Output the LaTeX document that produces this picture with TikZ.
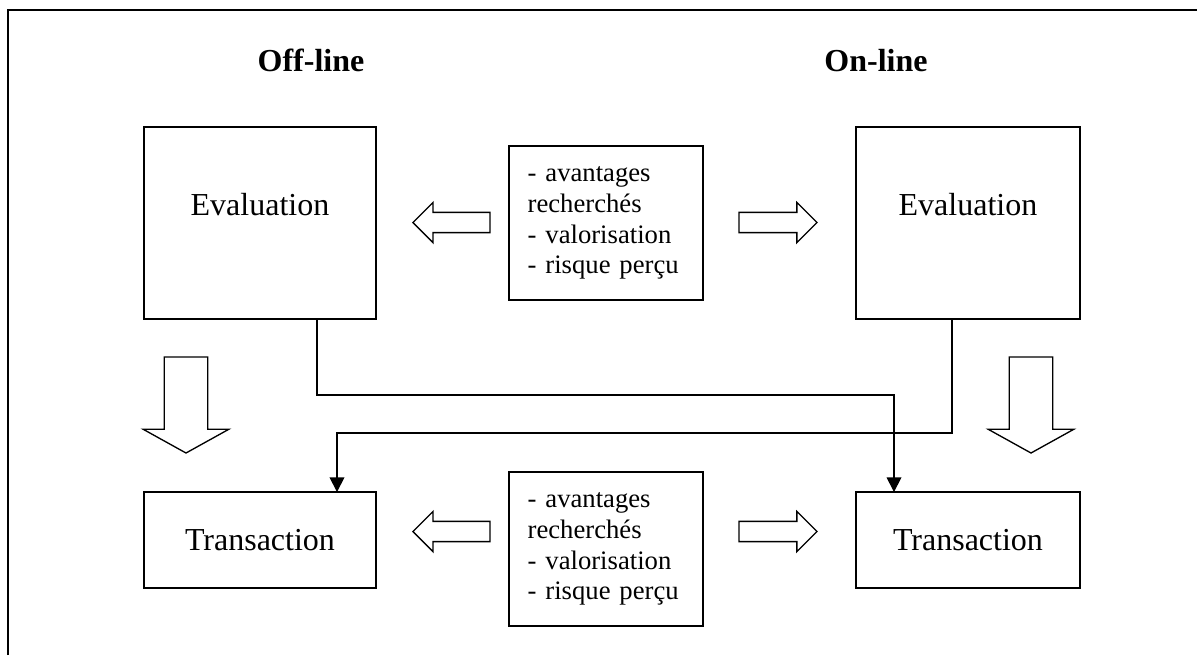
\documentclass[tikz,border=0pt]{standalone}
\usepackage{fontspec}
\setmainfont{Liberation Serif}
\usepackage{tikz}
\usetikzlibrary{shapes.arrows, arrows.meta, calc, positioning}
\tikzstyle{stage} = [rectangle, line width=0.75pt, draw=black, minimum width=87pt, inner sep=0pt, outer sep=0pt, font=\fontsize{12pt}{14pt}\selectfont]
\tikzstyle{criteria} = [rectangle, line width=0.75pt, draw=black, minimum width=72.75pt, minimum height=57.75pt, text width=58.75pt, inner xsep=7pt, inner ysep=0pt, align=left, font=\fontsize{10pt}{11.5pt}\selectfont]
\tikzstyle{heading} = [anchor=base, font=\fontsize{12pt}{14pt}\selectfont\bfseries]
\tikzstyle{blockarrow} = [single arrow, draw=black, line width=0.5pt, inner sep=3.55pt, single arrow head extend=3.75pt, single arrow tip angle=90, outer sep=0pt, anchor=tail]
\tikzstyle{downarrow} = [blockarrow, shape border rotate=270, minimum height=36pt, inner sep=7.9pt, single arrow head extend=7.9pt, single arrow tip angle=122]
\tikzstyle{arrow} = [line width=0.5pt, -{Triangle[width=5.5pt,length=5.5pt]}]
\tikzstyle{frame} = [line width=0.75pt]

\begin{document}
\begin{tikzpicture}[x=0.375pt, y=-0.375pt]
		\useasboundingbox (0,0) rectangle (1197,655);
		\draw [frame] (8,655) -- (8,10) -- (1197,10);
		
		\node (HeadOff) [heading] at (311,71) {Off-line};
		\node (HeadOn) [heading] at (876,71) {On-line};
		
		\node (EvalOff) [stage, minimum height=72pt, text height=8.2pt, text depth=14.2pt] at (260,223) {Evaluation};
		\node (EvalOn) [stage, minimum width=84pt, minimum height=72pt, text height=8.2pt, text depth=14.2pt] at (968,223) {Evaluation};
		\node (TransOff) [stage, minimum height=36pt, below = 64.9pt of EvalOff] {Transaction};
		\node (TransOn) [stage, minimum width=84pt, minimum height=36pt, below = 64.9pt of EvalOn] {Transaction};
		
		\node (CritTop) [criteria] at (606,223) {- avantages\\recherchés\\- valorisation\\- risque perçu};
		\node (CritBottom) [criteria] at (606,549) {- avantages\\recherchés\\- valorisation\\- risque perçu};
		
		\node (ArrowTopL) [blockarrow, shape border rotate=180, minimum height=28.9pt] at (490,222.5) {};
		\node (ArrowTopR) [blockarrow, minimum height=29.25pt] at (739,222.5) {};
		\node (ArrowBotL) [blockarrow, shape border rotate=180, minimum height=28.9pt] at (490,531.5) {};
		\node (ArrowBotR) [blockarrow, minimum height=29.25pt] at (739,531.5) {};
		\node (ArrowDownL) [downarrow] at (186,357) {};
		\node (ArrowDownR) [downarrow] at (1031,357) {};
		
		\draw [arrow] ($(EvalOff.south)+(57,0)$) -- ++(0,76) -| ($(TransOn.north)+(-74,0)$);
		\draw [arrow] ($(EvalOn.south)+(-16,0)$) -- ++(0,114) -| ($(TransOff.north)+(77,0)$);
\end{tikzpicture}
\end{document}
